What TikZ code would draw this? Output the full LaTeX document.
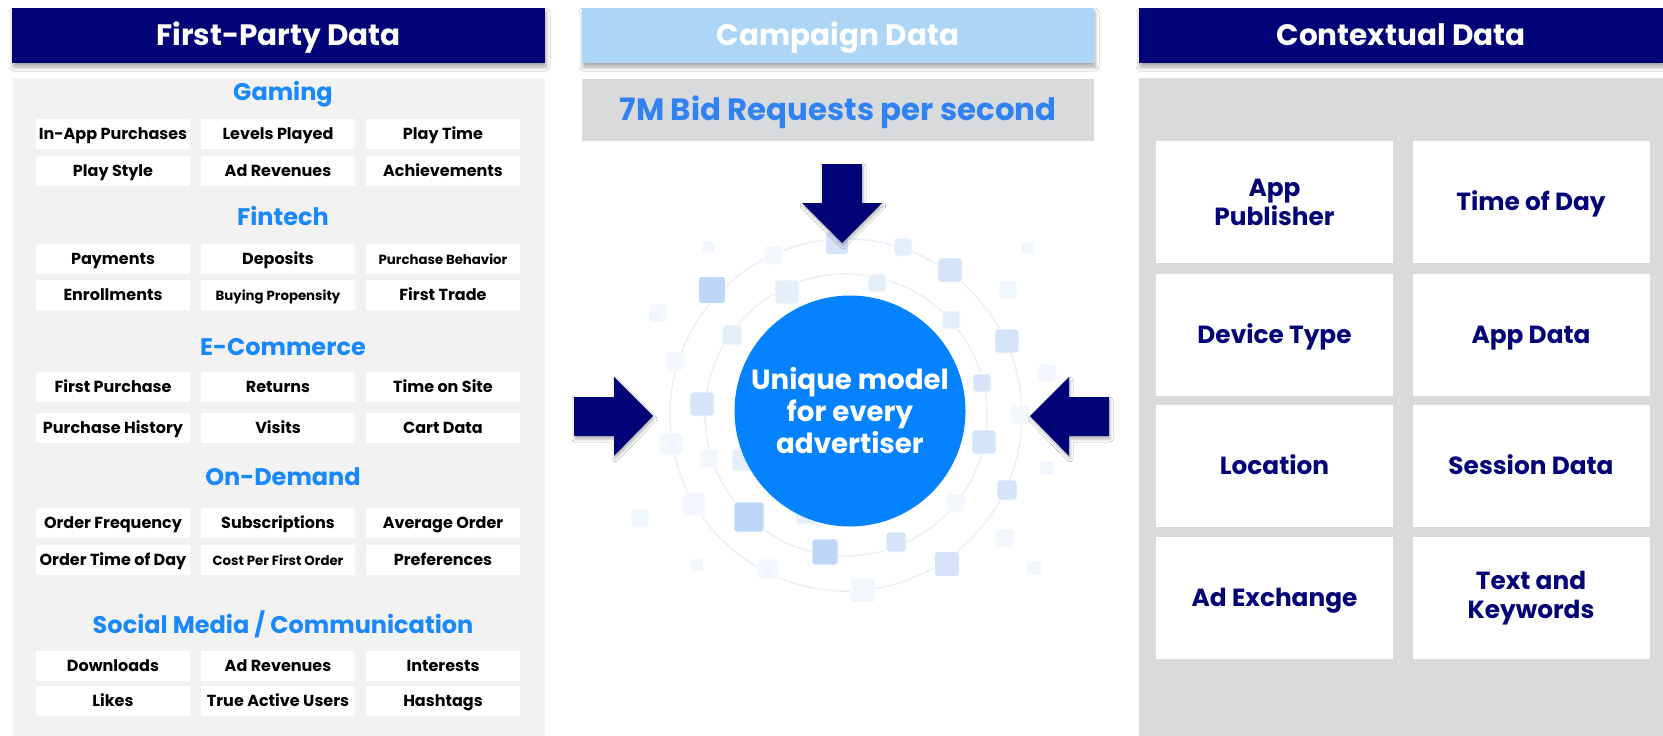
\documentclass[tikz,border=0pt]{standalone}
\usepackage{fontspec}
\setmainfont{Poppins}
\usetikzlibrary{shadows.blur,shapes.geometric}
\definecolor{navy}{RGB}{3,3,120}
\definecolor{camp}{RGB}{173,213,245}
\definecolor{graybg}{RGB}{217,218,220}
\definecolor{leftbg}{RGB}{242,242,242}
\definecolor{secblue}{RGB}{24,136,250}
\definecolor{bidblue}{RGB}{48,130,242}
\definecolor{circblue}{RGB}{5,130,255}
\definecolor{ringc}{RGB}{236,241,248}
\definecolor{sqa}{RGB}{242,247,253}
\definecolor{sqb}{RGB}{229,239,250}
\definecolor{sqc}{RGB}{213,228,248}
\definecolor{sqd}{RGB}{190,214,248}
\newcommand{\smallitem}{\fontsize{13.3}{15}\selectfont}
\newcommand{\fprow}[5]{%
  \node[item] (#1a) at (113,#2) {#3};
  \node[item] (#1b) at (278,#2) {#4};
  \node[item] (#1c) at (443,#2) {#5};}
\tikzset{
  capcenter/.style={text height=#1, text depth=0pt},
  header/.style={minimum height=55, inner sep=0, text=white, capcenter=20.6pt,
    font=\bfseries\fontsize{29.5}{33}\selectfont,
    blur shadow={shadow xshift=1pt, shadow yshift=-4pt, shadow blur radius=4pt, shadow opacity=35}},
  item/.style={fill=white, minimum width=154, minimum height=30, inner sep=0, capcenter=11.2pt,
    font=\bfseries\fontsize{16}{18}\selectfont},
  sectitle/.style={text=secblue, inner sep=0, capcenter=16.8pt, font=\bfseries\fontsize{24}{28}\selectfont},
  ctxbox/.style={fill=white, minimum width=237, minimum height=122, inner sep=0,
    align=center, text=navy, font=\bfseries\fontsize{24.8}{29}\selectfont},
  blockarrow/.style={fill=navy, blur shadow={shadow xshift=1pt, shadow yshift=-3pt, shadow blur radius=3pt, shadow opacity=30}},
  deco/.style={rounded corners=3pt, draw=white, line width=0.8pt}
}
\begin{document}
\begin{tikzpicture}[x=1pt,y=-1pt]
\useasboundingbox (0,0) rectangle (1663,736);
\fill[white] (0,0) rectangle (1663,736);
% panels
\fill[leftbg] (13,78) rectangle (545,736);
\fill[graybg] (1139,78) rectangle (1663,736);
% headers
\node[header, fill=navy, minimum width=533] (h1) at (278.5,35.5) {First-Party Data};
\node[header, fill=camp, minimum width=512] (h2) at (838,35.5) {Campaign Data};
\node[header, fill=navy, minimum width=524] (h3) at (1401,35.5) {Contextual Data};
% bid requests
\node[fill=graybg, minimum width=512, minimum height=62, inner sep=0, text=bidblue, capcenter=21.6pt,
  font=\bfseries\fontsize{30.8}{34}\selectfont] (bid) at (838,110) {7M Bid Requests per second};
% section titles
\node[sectitle] (t1) at (283,92) {Gaming};
\node[sectitle] (t2) at (283,217) {Fintech};
\node[sectitle] (t3) at (283,347) {E-Commerce};
\node[sectitle] (t4) at (283,477) {On-Demand};
\node[sectitle] (t5) at (283,625) {Social Media / Communication};
% items
\fprow{ga}{133.5}{In-App Purchases}{Levels Played}{Play Time}
\fprow{gb}{171}{Play Style}{Ad Revenues}{Achievements}
\fprow{fa}{258.5}{Payments}{Deposits}{\smallitem Purchase Behavior}
\fprow{fb}{294.5}{Enrollments}{\smallitem Buying Propensity}{First Trade}
\fprow{ea}{387}{First Purchase}{Returns}{Time on Site}
\fprow{eb}{428}{Purchase History}{Visits}{Cart Data}
\fprow{oa}{523}{Order Frequency}{Subscriptions}{Average Order}
\fprow{ob}{560}{Order Time of Day}{\smallitem Cost Per First Order}{Preferences}
\fprow{sa}{666}{Downloads}{Ad Revenues}{Interests}
\fprow{sb}{701}{Likes}{True Active Users}{Hashtags}
% contextual boxes
\node[ctxbox] (c1) at (1274.5,202) {App\\Publisher};
\node[ctxbox, capcenter=17.4pt] (c2) at (1531,202) {Time of Day};
\node[ctxbox, capcenter=17.4pt] (c3) at (1274.5,335) {Device Type};
\node[ctxbox, capcenter=17.4pt] (c4) at (1531,335) {App Data};
\node[ctxbox, capcenter=17.4pt] (c5) at (1274.5,466) {Location};
\node[ctxbox, capcenter=17.4pt] (c6) at (1531,466) {Session Data};
\node[ctxbox, capcenter=17.4pt] (c7) at (1274.5,598) {Ad Exchange};
\node[ctxbox] (c8) at (1531,598) {Text and\\Keywords};
% rings
\draw[ringc, line width=1.6pt] (846,415) circle (141);
\draw[ringc, line width=1.6pt] (846,415) circle (176);
% decorative squares
\foreach \x/\y/\s/\c in {
  837/243/23/sqc, 773/255/18/sqa, 708/247/12/sqa, 903/247/18/sqb, 1027/248/13/sqa,
  950/270/24/sqc, 712/290/27/sqd, 787/292/24/sqb, 877/283/18/sqb, 1008/290/18/sqa,
  658/313/18/sqa, 951/320/18/sqb, 732/335/20/sqb, 1007/341/24/sqc, 675/361/18/sqa,
  1047/373/18/sqa, 982/383/18/sqc, 702/404/24/sqc, 1020/415/18/sqa, 671/444/22/sqa,
  984/442/24/sqc, 709/458/18/sqa, 743/460/22/sqb, 1047/468/15/sqa, 1007/490/20/sqc,
  640/518/18/sqa, 694/504/22/sqa, 956/503/18/sqa, 749/517/30/sqd, 807/513/22/sqb,
  896/542/20/sqc, 825/552/26/sqd, 1005/538/18/sqa, 697/565/13/sqa, 768/569/20/sqa,
  947/564/25/sqc, 1034/568/15/sqa, 863/590/25/sqa}
  { \filldraw[deco, fill=\c] (\x-\s/2,\y-\s/2) rectangle ++(\s,\s); }
% central model
\node[circle, fill=circblue, minimum size=231, inner sep=0] (model) at (850,411) {};
\node[text=white, align=center, inner sep=0, font=\bfseries\fontsize{27.7}{32}\selectfont]
  (modeltext) at (model.center) {Unique model\\for every\\advertiser};
% block arrows
\fill[blockarrow] (822,164) -- (862,164) -- (862,203) -- (882,203) -- (842,243) -- (802,203) -- (822,203) -- cycle;
\fill[blockarrow] (574,397) -- (614,397) -- (614,377) -- (653,416) -- (614,456) -- (614,436) -- (574,436) -- cycle;
\fill[blockarrow] (1109,397) -- (1069,397) -- (1069,377) -- (1030,416) -- (1069,456) -- (1069,436) -- (1109,436) -- cycle;
\end{tikzpicture}
\end{document}
